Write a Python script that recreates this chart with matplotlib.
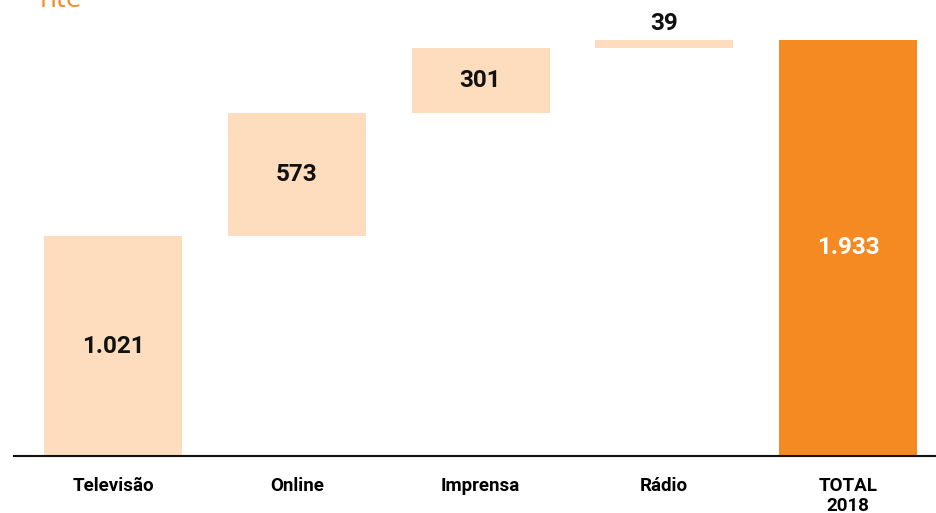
import matplotlib.pyplot as plt

# investimento publicitário por meio
categorias = ['Televisão', 'Online', 'Imprensa', 'Rádio', 'TOTAL\n2018']
valores = [1021, 573, 301, 39]
total = 1933
rotulos = ['1.021', '573', '301', '39', '1.933']

cor_clara = '#FDDDBD'
cor_total = '#F58A22'

plt.rcParams['font.family'] = ['Roboto', 'DejaVu Sans']

fig = plt.figure(figsize=(9.37, 5.13), dpi=100)
ax = fig.add_axes([14 / 937, 57 / 513, 1 - 14 / 937, 456 / 513])

# degraus da cascata
base = 0
for i, v in enumerate(valores):
    ax.bar(i, v, bottom=base, width=0.751, color=cor_clara)
    if v < 100:
        ax.text(i, base + v + 20, rotulos[i], ha='center', va='bottom',
                fontsize=17.5, fontweight='bold', color='#111111')
    else:
        ax.text(i, base + v / 2, rotulos[i], ha='center', va='center',
                fontsize=17.5, fontweight='bold', color='#111111')
    base += v

# barra do total
n = len(valores)
ax.bar(n, total, width=0.751, color=cor_total)
ax.text(n, total / 2, rotulos[-1], ha='center', va='center',
        fontsize=17.5, fontweight='bold', color='white')

ax.set_xlim(-0.539, 4.484)
ax.set_ylim(0, 1933 * 456 / 416)
ax.set_xticks(range(len(categorias)))
ax.set_xticklabels(categorias, fontsize=13.5, fontweight='bold', va='top',
                   linespacing=1.15)
ax.tick_params(axis='x', length=0, pad=15)
ax.set_yticks([])
for s in ['top', 'right', 'left']:
    ax.spines[s].set_visible(False)
ax.spines['bottom'].set_linewidth(1.5)
ax.spines['bottom'].set_color('#111111')

# resto do título cortado no topo
fig.text(40 / 937, 1 + 14 / 513, 'nte', ha='left', va='top', fontsize=20,
         color=cor_total, family='Open Sans')

fig.savefig('out.png', dpi=100)
